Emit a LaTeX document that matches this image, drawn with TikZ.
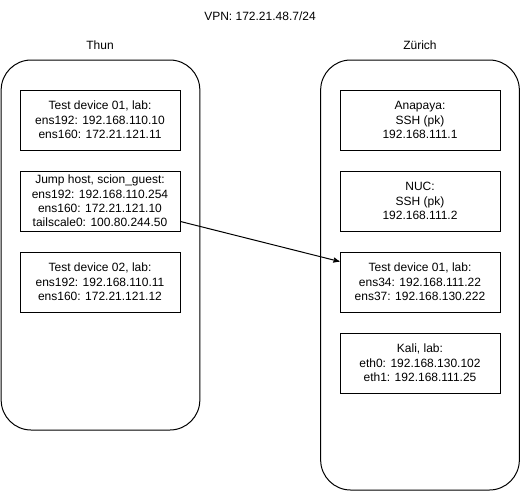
\documentclass[tikz,border=0pt]{standalone}
\usepackage{fontspec}
\setmainfont{Liberation Sans}
\usetikzlibrary{arrows,positioning}

\begin{document}
\begin{tikzpicture}[->,>=stealth',x=0.75pt,y=-0.75pt,node distance=15pt,line width=0.75pt,
  every node/.style={font=\fontsize{9}{10.8}\selectfont},
  site node/.style={draw,rounded corners=22.5pt,minimum width=149pt},
  main node/.style={draw,align=center,minimum width=120pt,minimum height=45pt,inner sep=0pt}]

  \useasboundingbox (0,0) rectangle (521,501);

  \node (vpn) at (260,16) {VPN: 172.21.48.7/24};
  \node (thunt) at (100,45) {Thun};
  \node (zurt) at (420,45) {Zürich};
  \node[site node,minimum height=277.5pt] (thun) at (100.5,245) {};
  \node[site node,minimum height=322.5pt] (zur) at (420,275) {};

  \node[main node] (t1) at (100,120) {Test device 01, lab:\\ens192: 192.168.110.10\\ens160: 172.21.121.11};
  \node[main node] (jump) [below=of t1] {Jump host, scion\_guest:\\ens192: 192.168.110.254\\ens160: 172.21.121.10\\tailscale0: 100.80.244.50};
  \node[main node] (t2) [below=of jump] {Test device 02, lab:\\ens192: 192.168.110.11\\ens160: 172.21.121.12};

  \node[main node] (ana) at (420,120) {Anapaya:\\SSH (pk)\\192.168.111.1};
  \node[main node] (nuc) [below=of ana] {NUC:\\SSH (pk)\\192.168.111.2};
  \node[main node] (tz) [below=of nuc] {Test device 01, lab:\\ens34: 192.168.111.22\\ens37: 192.168.130.222};
  \node[main node] (kali) [below=of tz] {Kali, lab:\\eth0: 192.168.130.102\\eth1: 192.168.111.25};

  \path
    ([yshift=7.5pt]jump.south east) edge ([yshift=-7.5pt]tz.north west);
\end{tikzpicture}
\end{document}
